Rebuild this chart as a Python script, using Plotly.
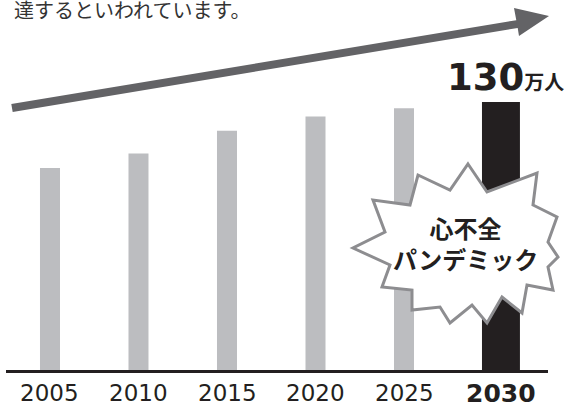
import plotly.graph_objects as go

# ---- data ----
years = ["2005", "2010", "2015", "2020", "2025", "2030"]
patients = [98, 105, 116, 123, 127, 130]   # 万人
headline_value = "130"
headline_unit = "万人"
caption = "達するといわれています。"
burst_lines = ["心不全", "パンデミック"]

# ---- style ----
W, H = 564, 407
ML, MR, MT, MB = 6, 16, 0, 37
PW, PH = W - ML - MR, H - MT - MB
GRAY, BLACK, ARROW, OUTLINE = "#bcbdc0", "#231f20", "#636366", "#8d8d90"


def px(x):
    return (x - ML) / PW


def py(y):
    return (H - MB - y) / PH


colors = [GRAY] * (len(years) - 1) + [BLACK]
widths = [0.226] * (len(years) - 1) + [0.429]
offsets = [-0.113] * (len(years) - 1) + [-0.119]

fig = go.Figure(go.Bar(x=years, y=patients, marker=dict(color=colors, line_width=0),
                       width=widths, offset=offsets, hoverinfo="skip"))

# arrow (shaft + head) as a path in pixel-based paper coords
shaft = [(12.7, 111.9), (11.3, 104.1), (516.3, 20.2), (517.7, 28.0)]
head = [(514, 8), (549, 16), (519, 36)]
arrow_pts = [shaft[0], shaft[1], shaft[2], head[0], head[1], head[2], shaft[3]]
arrow_path = "M " + " L ".join(f"{px(a):.5f},{py(b):.5f}" for a, b in arrow_pts) + " Z"

burst = [(468, 164), (487, 192), (537, 173), (533, 205), (557, 217), (548, 242), (558, 257),
         (548, 267), (553, 290), (527, 285), (522, 313), (502, 297), (487, 323), (472, 305),
         (450, 323), (440, 307), (412, 310), (412, 290), (382, 287), (390, 265), (353, 248),
         (385, 232), (373, 200), (410, 205), (418, 175), (450, 190)]
burst_path = "M " + " L ".join(f"{px(a):.5f},{py(b):.5f}" for a, b in burst) + " Z"

shapes = [
    dict(type="path", path=arrow_path, xref="paper", yref="paper",
         fillcolor=ARROW, line=dict(width=0), layer="above"),
    dict(type="path", path=burst_path, xref="paper", yref="paper",
         fillcolor="white", line=dict(color=OUTLINE, width=3), layer="above"),
]

annotations = []
for i, yr in enumerate(years):
    last = i == len(years) - 1
    annotations.append(dict(
        x=i, xref="x", y=py(393), yref="paper", yanchor="middle", xanchor="center",
        text=f"<b>{yr}</b>" if last else yr, showarrow=False,
        xshift=8 if last else 0,
        font=dict(family="DejaVu Sans", size=25 if last else 23, color=BLACK)))

annotations.append(dict(
    x=px(445), xref="paper", y=py(77), yref="paper", xanchor="left", yanchor="middle",
    text=f"<b>{headline_value}</b><span style='font-size:20px'><b>{headline_unit}</b></span>",
    showarrow=False, font=dict(family="DejaVu Sans, Noto Sans CJK JP", size=37, color=BLACK)))

annotations.append(dict(
    x=px(12), xref="paper", y=py(10), yref="paper", xanchor="left", yanchor="middle",
    text=caption, showarrow=False,
    font=dict(family="Noto Sans CJK JP", size=20, color="#333333")))

annotations.append(dict(
    x=px(465), xref="paper", y=py(243), yref="paper", xanchor="center", yanchor="middle",
    text="<b>" + "</b><br><b>".join(burst_lines) + "</b>", showarrow=False,
    font=dict(family="Noto Sans CJK JP", size=24, color=BLACK)))

fig.update_layout(
    width=W, height=H, margin=dict(l=ML, r=MR, t=MT, b=MB),
    paper_bgcolor="white", plot_bgcolor="white", showlegend=False,
    shapes=shapes, annotations=annotations,
    xaxis=dict(type="category", range=[-0.497, 5.627], showline=True, linecolor=BLACK,
               linewidth=3, showticklabels=False, ticks="", showgrid=False, zeroline=False,
               fixedrange=True),
    yaxis=dict(range=[0, 130 * 370 / 268], visible=False, fixedrange=True),
)

fig.write_html("out.html")
